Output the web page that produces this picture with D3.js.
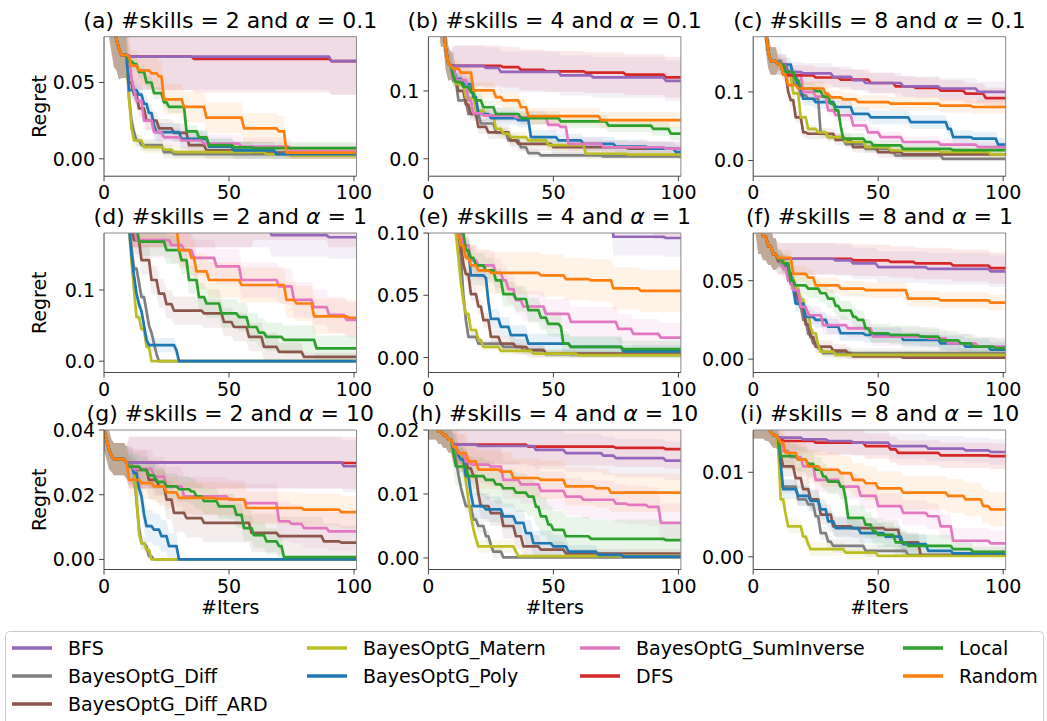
<!DOCTYPE html>
<html>
<head>
<meta charset="utf-8">
<script src="https://cdn.jsdelivr.net/npm/d3@7"></script>
<style>
body { margin: 0; background: #fff; }
text { font-family: "DejaVu Sans", sans-serif; fill: #000; }
</style>
</head>
<body>
<svg id="fig" width="1047" height="721"></svg>
<script>
// methods, in the order they are listed in the legend
var methods = ['BFS', 'BayesOptG_Diff', 'BayesOptG_Diff_ARD', 'BayesOptG_Matern', 'BayesOptG_Poly',
	'BayesOptG_SumInverse', 'DFS', 'Local', 'Random'];
var colors = ['#9467bd', '#7f7f7f', '#8c564b', '#bcbd22', '#1f77b4', '#e377c2', '#d62728', '#2ca02c', '#ff7f0e'];
// BFS sits on top of DFS where the two coincide
var drawOrder = [1, 2, 3, 4, 5, 6, 0, 7, 8];

var panelLetters = ['a', 'b', 'c', 'd', 'e', 'f', 'g', 'h', 'i'];
var skills = [2, 4, 8];
var alphas = ['0.1', '1', '10'];

// y tick values / labels per panel
var yTicks = [[0, 0.05], [0, 0.1], [0, 0.1], [0, 0.1], [0, 0.05, 0.1], [0, 0.05], [0, 0.02, 0.04], [0, 0.01, 0.02], [0, 0.01]];
var yTickLabels = [['0.00', '0.05'], ['0.0', '0.1'], ['0.0', '0.1'], ['0.0', '0.1'], ['0.00', '0.05', '0.10'],
	['0.00', '0.05'], ['0.00', '0.02', '0.04'], ['0.00', '0.01', '0.02'], ['0.00', '0.01']];
var yLimits = [[-0.0114, 0.080], [-0.0257, 0.18], [-0.0229, 0.1805], [-0.0159, 0.18], [-0.012, 0.1],
	[-0.0085, 0.0804], [-0.0031, 0.04], [-0.0018, 0.02], [-0.0015, 0.0150]];
var xTicks = [0, 50, 100];

// shared random-initialisation phase: [iter, regret, spread]
var initA = [[0, 0.13, 0.03], [2, 0.11, 0.03], [3, 0.095, 0.025], [4, 0.085, 0.025], [5, 0.078, 0.02], [6, 0.072, 0.02], [7, 0.068, 0.015]];
var initB = [[0, 0.3, 0.04], [3, 0.24, 0.04], [5, 0.2, 0.035], [7, 0.16, 0.03], [8, 0.14, 0.025], [9, 0.137, 0.02]];
var initC = [[0, 0.3, 0.04], [3, 0.24, 0.04], [5, 0.19, 0.03], [6, 0.16, 0.025], [7, 0.145, 0.02]];
var initD = [[0, 0.3, 0.03], [10, 0.19, 0.03]];
var initE = [[0, 0.2, 0.02], [10, 0.12, 0.02]];
var initF = [[0, 0.1, 0.02], [2, 0.085, 0.018], [4, 0.078, 0.015], [6, 0.072, 0.012], [8, 0.067, 0.01]];
var initG = [[0, 0.04, 0.006], [1, 0.037, 0.006], [2, 0.034, 0.006], [3, 0.032, 0.005], [4, 0.031, 0.005], [9, 0.03, 0.005]];
var initH = [[0, 0.0205, 0.002], [4, 0.0198, 0.002], [6, 0.0192, 0.002], [8, 0.0185, 0.002], [10, 0.0177, 0.002]];
var initI = [[0, 0.0155, 0.0015], [5, 0.0152, 0.0015], [7, 0.0148, 0.0015], [8, 0.0144, 0.0015]];

// best regret so far: [iter, regret] where it changes, one list per method
var regretA = [
	[[10, 0.067], [91, 0.064]],
	[[9, 0.068], [10, 0.04], [11, 0.025], [12, 0.0175], [13, 0.012], [15, 0.009], [24, 0.0044], [28, 0.003]],
	[[10, 0.05], [12, 0.042], [14, 0.033], [17, 0.025], [22, 0.02], [28, 0.017], [34, 0.009], [41, 0.0055], [60, 0.004]],
	[[10, 0.04], [11, 0.02], [12, 0.012], [16, 0.0077], [24, 0.006], [28, 0.0044], [65, 0.003], [75, 0.002]],
	[[10, 0.045], [14, 0.042], [16, 0.036], [18, 0.03], [20, 0.022], [21, 0.0175], [31, 0.013], [42, 0.008], [52, 0.0055], [69, 0.003]],
	[[11, 0.053], [12, 0.045], [13, 0.038], [16, 0.025], [20, 0.0175], [24, 0.014], [31, 0.012], [40, 0.01], [55, 0.008], [75, 0.005]],
	[[10, 0.067], [36, 0.0655], [91, 0.064]],
	[[10, 0.064], [12, 0.062], [14, 0.057], [17, 0.05], [20, 0.043], [24, 0.037], [26, 0.034], [33, 0.018], [38, 0.014], [42, 0.009], [52, 0.0075], [60, 0.007]],
	[[10, 0.067], [11, 0.061], [14, 0.058], [19, 0.056], [22, 0.054], [24, 0.039], [32, 0.034], [41, 0.027], [56, 0.02], [70, 0.018], [73, 0.004]]
];
var regretB = [
	[[10, 0.137], [23, 0.134], [29, 0.128], [53, 0.123], [66, 0.12], [95, 0.115]],
	[[10, 0.115], [12, 0.086], [16, 0.066], [21, 0.052], [27, 0.039], [32, 0.027], [37, 0.017], [40, 0.0084], [45, 0.005], [70, 0.0035]],
	[[11, 0.115], [12, 0.1], [15, 0.08], [17, 0.066], [20, 0.047], [24, 0.039], [33, 0.027], [36, 0.022], [50, 0.017], [80, 0.015]],
	[[11, 0.11], [15, 0.09], [19, 0.071], [23, 0.064], [27, 0.044], [30, 0.037], [33, 0.032], [40, 0.027], [48, 0.02], [63, 0.0074], [80, 0.006]],
	[[11, 0.118], [14, 0.11], [18, 0.091], [20, 0.066], [25, 0.06], [36, 0.057], [41, 0.032], [52, 0.027], [62, 0.022], [75, 0.018], [88, 0.015], [99, 0.01]],
	[[11, 0.116], [16, 0.086], [18, 0.067], [22, 0.064], [35, 0.061], [48, 0.05], [53, 0.047], [56, 0.022], [70, 0.017], [95, 0.015]],
	[[10, 0.137], [30, 0.135], [37, 0.131], [47, 0.129], [63, 0.127], [79, 0.124], [95, 0.12]],
	[[10, 0.123], [11, 0.113], [14, 0.106], [17, 0.098], [19, 0.086], [22, 0.076], [27, 0.066], [37, 0.06], [53, 0.055], [72, 0.049], [90, 0.044], [97, 0.037]],
	[[10, 0.133], [13, 0.127], [18, 0.101], [27, 0.091], [30, 0.086], [37, 0.076], [40, 0.063], [69, 0.057]]
];
var regretC = [
	[[10, 0.14], [14, 0.129], [20, 0.127], [32, 0.122], [40, 0.117], [45, 0.113], [60, 0.108], [75, 0.105], [90, 0.1]],
	[[12, 0.13], [16, 0.112], [19, 0.095], [22, 0.09], [27, 0.039], [30, 0.034], [37, 0.024], [45, 0.017], [55, 0.012], [57, 0.0073], [76, 0.0024]],
	[[10, 0.14], [12, 0.125], [14, 0.1], [15, 0.088], [17, 0.063], [20, 0.041], [22, 0.039], [33, 0.03], [40, 0.0195], [50, 0.012], [60, 0.009]],
	[[10, 0.14], [13, 0.125], [16, 0.098], [19, 0.063], [22, 0.046], [26, 0.041], [30, 0.034], [37, 0.027], [45, 0.0195], [55, 0.0146], [75, 0.012], [95, 0.009]],
	[[10, 0.14], [16, 0.124], [18, 0.107], [20, 0.09], [25, 0.085], [33, 0.078], [40, 0.068], [47, 0.063], [63, 0.056], [78, 0.046], [80, 0.034], [88, 0.032], [98, 0.023]],
	[[10, 0.14], [14, 0.125], [20, 0.1], [25, 0.093], [30, 0.073], [33, 0.066], [40, 0.051], [46, 0.041], [51, 0.034], [60, 0.027], [75, 0.023], [90, 0.0195]],
	[[10, 0.14], [14, 0.124], [25, 0.121], [35, 0.118], [47, 0.113], [57, 0.108], [65, 0.106], [75, 0.102], [85, 0.0976], [93, 0.091]],
	[[10, 0.14], [13, 0.129], [17, 0.117], [19, 0.105], [25, 0.101], [28, 0.093], [31, 0.083], [33, 0.073], [35, 0.05], [36, 0.032], [45, 0.027], [48, 0.022], [60, 0.017], [80, 0.015]],
	[[10, 0.14], [12, 0.125], [14, 0.11], [18, 0.105], [29, 0.097], [31, 0.092], [36, 0.089], [42, 0.085], [55, 0.083], [75, 0.08], [88, 0.078]]
];
var regretD = [
	[[60, 0.19], [67, 0.177], [90, 0.174]],
	[[11, 0.16], [12, 0.13], [14, 0.11], [15, 0.09], [17, 0.07], [18, 0.05], [19, 0.04], [20, 0.025], [21, 0.01], [22, 0]],
	[[12, 0.17], [15, 0.142], [19, 0.114], [22, 0.095], [25, 0.08], [28, 0.071], [40, 0.067], [48, 0.055], [52, 0.048], [58, 0.034], [64, 0.02], [70, 0.013], [80, 0.006]],
	[[11, 0.14], [12, 0.1], [13, 0.062], [15, 0.045], [17, 0.02], [19, 0]],
	[[11, 0.15], [12, 0.12], [13, 0.095], [14, 0.08], [15, 0.07], [16, 0.05], [17, 0.03], [18, 0.0225], [29, 0.015], [30, 0]],
	[[13, 0.17], [27, 0.163], [32, 0.156], [36, 0.145], [45, 0.133], [55, 0.114], [70, 0.105], [76, 0.086], [84, 0.076], [90, 0.065], [97, 0.058]],
	[[60, 0.2], [90, 0.19]],
	[[12, 0.19], [14, 0.168], [25, 0.156], [31, 0.142], [34, 0.114], [38, 0.09], [41, 0.081], [47, 0.067], [54, 0.062], [58, 0.048], [62, 0.04], [65, 0.034], [72, 0.03], [85, 0.018]],
	[[25, 0.19], [30, 0.156], [35, 0.145], [37, 0.126], [42, 0.114], [55, 0.107], [73, 0.086], [77, 0.081], [84, 0.063], [98, 0.061]]
];
var regretE = [
	[[60, 0.12], [74, 0.097], [95, 0.096]],
	[[12, 0.1], [13, 0.08], [14, 0.05], [15, 0.03], [16, 0.0166], [20, 0.0112], [30, 0.0086], [38, 0.006], [47, 0.0027]],
	[[11, 0.1], [13, 0.09], [14, 0.075], [15, 0.067], [17, 0.051], [20, 0.041], [22, 0.03], [25, 0.0166], [29, 0.0112], [35, 0.0086], [40, 0.006], [47, 0.0032]],
	[[11, 0.1], [12, 0.08], [13, 0.06], [14, 0.045], [15, 0.035], [17, 0.022], [20, 0.014], [22, 0.0086], [29, 0.0053], [42, 0.0032], [60, 0.002]],
	[[12, 0.1], [14, 0.09], [15, 0.086], [17, 0.066], [23, 0.064], [24, 0.045], [25, 0.031], [29, 0.0246], [33, 0.018], [40, 0.0112], [57, 0.0086], [78, 0.005]],
	[[12, 0.1], [14, 0.09], [17, 0.078], [20, 0.074], [27, 0.068], [30, 0.062], [32, 0.055], [35, 0.046], [38, 0.041], [47, 0.035], [57, 0.0286], [76, 0.023], [82, 0.019], [93, 0.016]],
	[[60, 0.12], [90, 0.11]],
	[[13, 0.1], [15, 0.086], [17, 0.08], [19, 0.074], [23, 0.07], [27, 0.062], [30, 0.051], [35, 0.047], [40, 0.038], [45, 0.032], [48, 0.027], [53, 0.0246], [54, 0.0112], [57, 0.0086], [78, 0.0067]],
	[[12, 0.1], [13, 0.09], [15, 0.08], [17, 0.074], [20, 0.07], [25, 0.068], [45, 0.066], [55, 0.063], [65, 0.062], [74, 0.0555], [85, 0.0535]]
];
var regretF = [
	[[10, 0.064], [33, 0.063], [40, 0.061], [50, 0.0587], [70, 0.0576], [95, 0.056]],
	[[10, 0.062], [12, 0.058], [14, 0.052], [16, 0.045], [18, 0.035], [20, 0.025], [22, 0.016], [24, 0.01], [26, 0.007], [28, 0.0038]],
	[[10, 0.063], [13, 0.058], [15, 0.048], [17, 0.04], [19, 0.033], [21, 0.022], [23, 0.014], [25, 0.008], [32, 0.0055], [38, 0.0038], [40, 0.0017], [60, 0.001]],
	[[10, 0.064], [13, 0.06], [15, 0.052], [17, 0.045], [19, 0.038], [21, 0.03], [23, 0.02], [24, 0.0165], [26, 0.009], [27, 0.0048], [33, 0.0027]],
	[[10, 0.064], [12, 0.061], [14, 0.055], [16, 0.045], [17, 0.0354], [21, 0.027], [25, 0.025], [30, 0.0207], [35, 0.0165], [45, 0.0154], [60, 0.0122], [75, 0.0101], [85, 0.008], [95, 0.006]],
	[[10, 0.064], [12, 0.058], [14, 0.05], [16, 0.044], [19, 0.0333], [22, 0.028], [28, 0.0217], [38, 0.0196], [48, 0.0143], [70, 0.0133], [78, 0.01], [90, 0.008]],
	[[10, 0.064], [40, 0.063], [55, 0.062], [65, 0.061], [80, 0.0597], [95, 0.058]],
	[[10, 0.064], [12, 0.061], [15, 0.05], [17, 0.047], [22, 0.045], [27, 0.042], [30, 0.0386], [33, 0.034], [35, 0.031], [40, 0.027], [42, 0.025], [45, 0.0196], [47, 0.0165], [55, 0.0154], [67, 0.0143], [75, 0.012], [83, 0.0101], [88, 0.008], [97, 0.007]],
	[[10, 0.0645], [16, 0.0544], [22, 0.052], [25, 0.047], [35, 0.045], [45, 0.044], [62, 0.0386], [75, 0.0375], [95, 0.036]]
];
var regretG = [
	[[10, 0.0299], [96, 0.0288]],
	[[10, 0.03], [12, 0.027], [13, 0.018], [14, 0.01], [15, 0.005], [17, 0.004], [18, 0.001], [20, 0]],
	[[10, 0.029], [12, 0.0277], [18, 0.0246], [22, 0.0226], [25, 0.0185], [28, 0.0144], [33, 0.0128], [40, 0.0113], [59, 0.0082], [70, 0.0072], [88, 0.0056], [95, 0.0052]],
	[[10, 0.03], [12, 0.028], [13, 0.02], [14, 0.008], [15, 0.005], [17, 0.003], [19, 0]],
	[[10, 0.029], [12, 0.0267], [14, 0.022], [15, 0.0195], [16, 0.014], [17, 0.0103], [20, 0.0092], [23, 0.0072], [26, 0.0041], [30, 0]],
	[[10, 0.029], [12, 0.028], [20, 0.0256], [25, 0.0226], [32, 0.0195], [50, 0.0185], [57, 0.0174], [70, 0.0118], [75, 0.011], [80, 0.0097], [90, 0.0087]],
	[[10, 0.0299], [96, 0.0298]],
	[[10, 0.0287], [15, 0.0277], [18, 0.026], [21, 0.024], [25, 0.0226], [30, 0.0217], [35, 0.021], [37, 0.0195], [40, 0.018], [46, 0.0164], [53, 0.0138], [56, 0.0097], [60, 0.0075], [65, 0.0056], [70, 0.0041], [72, 0.0007]],
	[[10, 0.0246], [15, 0.0236], [20, 0.0226], [25, 0.0207], [30, 0.019], [45, 0.0187], [52, 0.0185], [57, 0.0159], [80, 0.0154], [95, 0.0146]]
];
var regretH = [
	[[10, 0.0177], [20, 0.0175], [43, 0.0169], [55, 0.0164], [70, 0.016], [75, 0.0156], [95, 0.0152]],
	[[10, 0.017], [11, 0.0154], [12, 0.013], [13, 0.011], [14, 0.0095], [15, 0.0081], [18, 0.006], [20, 0.005], [23, 0.0034], [25, 0.002], [26, 0.001], [30, 0.0001]],
	[[10, 0.0174], [12, 0.016], [14, 0.015], [16, 0.014], [18, 0.0128], [20, 0.01], [21, 0.0081], [25, 0.007], [30, 0.005], [35, 0.0034], [38, 0.0018], [45, 0.0013], [55, 0.0007]],
	[[10, 0.0174], [12, 0.016], [14, 0.0143], [15, 0.012], [16, 0.009], [17, 0.0065], [18, 0.0045], [19, 0.003], [20, 0.0018], [35, 0.001], [36, 0.0003]],
	[[10, 0.0174], [12, 0.016], [13, 0.0154], [15, 0.0128], [17, 0.01], [18, 0.0081], [23, 0.0076], [30, 0.0065], [35, 0.0055], [39, 0.0039], [42, 0.0023], [50, 0.0018], [56, 0.001], [68, 0.0005], [78, 0.0002]],
	[[10, 0.0174], [12, 0.0164], [15, 0.015], [17, 0.0146], [25, 0.0143], [30, 0.0122], [37, 0.0115], [45, 0.0105], [55, 0.0096], [62, 0.0091], [75, 0.0085], [80, 0.0083], [88, 0.008], [93, 0.0055]],
	[[10, 0.0177], [40, 0.0174], [75, 0.0172], [95, 0.017]],
	[[10, 0.0165], [11, 0.0143], [16, 0.0128], [23, 0.0122], [27, 0.0115], [30, 0.0109], [35, 0.0102], [40, 0.0096], [43, 0.008], [45, 0.0065], [48, 0.0052], [50, 0.0044], [55, 0.0034], [65, 0.003], [95, 0.0028]],
	[[10, 0.0174], [12, 0.0164], [16, 0.0151], [20, 0.0138], [29, 0.0135], [34, 0.0125], [45, 0.0122], [55, 0.0112], [67, 0.0109], [73, 0.0102]]
];
var regretI = [
	[[10, 0.0141], [20, 0.0139], [30, 0.0137], [40, 0.0135], [55, 0.0131], [70, 0.0128], [85, 0.0126], [95, 0.0124]],
	[[10, 0.0135], [11, 0.0083], [18, 0.0068], [22, 0.0062], [25, 0.0048], [27, 0.0028], [30, 0.0018], [32, 0.0013], [45, 0.0007], [62, 0.0002]],
	[[10, 0.014], [11, 0.012], [12, 0.0107], [17, 0.0093], [20, 0.008], [23, 0.0068], [27, 0.005], [32, 0.0036], [40, 0.0034], [53, 0.0032], [59, 0.0017], [67, 0.0002]],
	[[10, 0.013], [11, 0.0068], [13, 0.005], [14, 0.0036], [20, 0.0024], [22, 0.0015], [23, 0.0009], [37, 0.0005], [50, 0.0001]],
	[[10, 0.014], [11, 0.011], [12, 0.008], [18, 0.0072], [23, 0.0066], [27, 0.0056], [30, 0.0042], [33, 0.0034], [43, 0.0028], [53, 0.0024], [60, 0.0015], [70, 0.0007], [80, 0.0004]],
	[[10, 0.014], [12, 0.0125], [15, 0.0118], [20, 0.0107], [25, 0.0091], [35, 0.0083], [43, 0.0072], [50, 0.006], [60, 0.0052], [70, 0.0048], [75, 0.0036], [80, 0.0019], [95, 0.0016]],
	[[10, 0.0141], [12, 0.0137], [25, 0.0135], [45, 0.0131], [55, 0.0127], [58, 0.0123], [75, 0.012], [95, 0.0119]],
	[[10, 0.014], [11, 0.0119], [18, 0.0115], [22, 0.011], [25, 0.0103], [28, 0.0095], [30, 0.0089], [35, 0.0083], [37, 0.0068], [38, 0.0046], [45, 0.0038], [48, 0.003], [50, 0.0026], [57, 0.0017], [62, 0.0013], [80, 0.0009], [88, 0.0006]],
	[[10, 0.014], [11, 0.0135], [13, 0.0123], [18, 0.0115], [22, 0.0107], [27, 0.0103], [35, 0.0099], [40, 0.0091], [45, 0.0087], [50, 0.0081], [60, 0.0076], [78, 0.0072], [85, 0.0068], [92, 0.006], [95, 0.0056]]
];

// half-width of the shaded band, one value per method
var spreadA = [0.022, 0.004, 0.006, 0.004, 0.006, 0.006, 0.022, 0.004, 0.01];
var spreadB = [0.03, 0.006, 0.01, 0.008, 0.01, 0.01, 0.03, 0.01, 0.012];
var spreadC = [0.015, 0.006, 0.008, 0.006, 0.01, 0.008, 0.015, 0.008, 0.01];
var spreadD = [0.03, 0.005, 0.02, 0.005, 0.01, 0.025, 0.03, 0.02, 0.025];
var spreadE = [0.015, 0.003, 0.006, 0.003, 0.008, 0.012, 0.015, 0.01, 0.017];
var spreadF = [0.01, 0.003, 0.004, 0.003, 0.005, 0.006, 0.01, 0.006, 0.005];
var spreadG = [0.008, 0.002, 0.006, 0.002, 0.005, 0.006, 0.008, 0.004, 0.005];
var spreadH = [0.003, 0.001, 0.002, 0.001, 0.002, 0.003, 0.003, 0.003, 0.003];
var spreadI = [0.0015, 0.0008, 0.0012, 0.0008, 0.0012, 0.0015, 0.0015, 0.0015, 0.002];

var inits = [initA, initB, initC, initD, initE, initF, initG, initH, initI];
var regrets = [regretA, regretB, regretC, regretD, regretE, regretF, regretG, regretH, regretI];
var spreads = [spreadA, spreadB, spreadC, spreadD, spreadE, spreadF, spreadG, spreadH, spreadI];

// layout
var colLeft = [104, 428.4, 753.2];
var plotW = 252.5;
var rowTop = [36.7, 233, 430];
var plotH = 139.5;
var xMax = 101;
var fontSize = '19px';

var svg = d3.select('#fig');

// held-value curve: each value stays until the iteration before the next change
function expand(init, pts, spread) {
	var first = pts[0][0];
	var all = init.filter(function(d) { return d[0] < first; }).concat(pts);
	var out = [];
	all.forEach(function(d, i) {
		var s = d.length > 2 ? d[2] : spread;
		if (i > 0 && d[0] - 1 > all[i - 1][0]) {
			var prev = out[out.length - 1];
			out.push([d[0] - 1, prev[1], prev[2]]);
		}
		out.push([d[0], d[1], s]);
	});
	var last = out[out.length - 1];
	out.push([xMax, last[1], last[2]]);
	return out;
}

regrets.forEach(function(series, k) {
	var col = k % 3, row = Math.floor(k / 3);
	var x0 = colLeft[col], y0 = rowTop[row];
	var x = d3.scaleLinear().domain([0, xMax]).range([x0, x0 + plotW]);
	var y = d3.scaleLinear().domain(yLimits[k]).range([y0 + plotH, y0]);
	var g = svg.append('g');

	g.append('clipPath').attr('id', 'clip' + k)
		.append('rect').attr('x', x0).attr('y', y0).attr('width', plotW).attr('height', plotH);

	var plot = g.append('g').attr('clip-path', 'url(#clip' + k + ')');
	var curves = series.map(function(pts, m) { return expand(inits[k], pts, spreads[k][m]); });

	var area = d3.area()
		.x(function(d) { return x(d[0]); })
		.y0(function(d) { return y(d[1] - Math.min(d[2], d[1])); })
		.y1(function(d) { return y(d[1] + Math.min(d[2], d[1])); });
	var line = d3.line()
		.x(function(d) { return x(d[0]); })
		.y(function(d) { return y(d[1]); });

	drawOrder.forEach(function(m) {
		plot.append('path').attr('d', area(curves[m])).attr('fill', colors[m]).attr('fill-opacity', 0.1);
	});
	drawOrder.forEach(function(m) {
		plot.append('path').attr('d', line(curves[m])).attr('fill', 'none')
			.attr('stroke', colors[m]).attr('stroke-width', 2.7).attr('stroke-linejoin', 'round');
	});

	// frame
	g.append('line').attr('x1', x0).attr('x2', x0 + plotW).attr('y1', y0).attr('y2', y0).attr('stroke', '#888');
	g.append('line').attr('x1', x0 + plotW).attr('x2', x0 + plotW).attr('y1', y0).attr('y2', y0 + plotH).attr('stroke', '#888');
	g.append('line').attr('x1', x0).attr('x2', x0).attr('y1', y0).attr('y2', y0 + plotH).attr('stroke', '#444');
	g.append('line').attr('x1', x0).attr('x2', x0 + plotW).attr('y1', y0 + plotH).attr('y2', y0 + plotH).attr('stroke', '#444');

	// ticks
	xTicks.forEach(function(t) {
		g.append('line').attr('x1', x(t)).attr('x2', x(t)).attr('y1', y0 + plotH).attr('y2', y0 + plotH + 5).attr('stroke', '#444');
		g.append('text').attr('x', x(t)).attr('y', y0 + plotH + 23).attr('text-anchor', 'middle')
			.style('font-size', fontSize).text(t);
	});
	yTicks[k].forEach(function(t, i) {
		g.append('line').attr('x1', x0 - 5).attr('x2', x0).attr('y1', y(t)).attr('y2', y(t)).attr('stroke', '#444');
		g.append('text').attr('x', x0 - 9).attr('y', y(t) + 7).attr('text-anchor', 'end')
			.style('font-size', fontSize).text(yTickLabels[k][i]);
	});

	// title
	var title = g.append('text').attr('x', x0 + plotW / 2).attr('y', y0 - 9).attr('text-anchor', 'middle')
		.style('font-size', '22px');
	title.append('tspan').text('(' + panelLetters[k] + ') #skills = ' + skills[col] + ' and ');
	title.append('tspan').style('font-style', 'italic').text('\u03b1');
	title.append('tspan').text(' = ' + alphas[row]);

	if (col === 0) {
		g.append('text').attr('transform', 'translate(46,' + (y0 + plotH / 2) + ') rotate(-90)')
			.attr('text-anchor', 'middle').style('font-size', fontSize).text('Regret');
	}
	if (row === 2) {
		g.append('text').attr('x', x0 + plotW / 2).attr('y', y0 + plotH + 44).attr('text-anchor', 'middle')
			.style('font-size', fontSize).text('#Iters');
	}
});

// legend: 4 columns, filled column by column
var legendCols = [[0, 1, 2], [3, 4], [5, 6], [7, 8]];
var legendX = [12, 307, 580, 903];
var legendY = [648, 676, 704];
var legend = svg.append('g');
legend.append('rect').attr('x', 5.5).attr('y', 631.5).attr('width', 1038).attr('height', 110).attr('rx', 4)
	.attr('fill', '#fff').attr('stroke', '#ccc');
legendCols.forEach(function(ids, c) {
	ids.forEach(function(m, r) {
		legend.append('line').attr('x1', legendX[c]).attr('x2', legendX[c] + 40)
			.attr('y1', legendY[r]).attr('y2', legendY[r]).attr('stroke', colors[m]).attr('stroke-width', 3.5);
		legend.append('text').attr('x', legendX[c] + 56).attr('y', legendY[r] + 7)
			.style('font-size', fontSize).text(methods[m]);
	});
});
</script>
</body>
</html>
